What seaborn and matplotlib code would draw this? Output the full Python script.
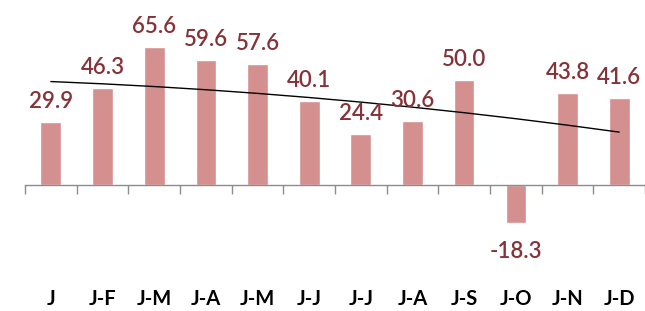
import numpy as np
import matplotlib
matplotlib.use("Agg")
import matplotlib.pyplot as plt
import seaborn as sns

# data
labels = ["J", "J-F", "J-M", "J-A", "J-M", "J-J", "J-J", "J-A", "J-S", "J-O", "J-N", "J-D"]
values = [29.9, 46.3, 65.6, 59.6, 57.6, 40.1, 24.4, 30.6, 50.0, -18.3, 43.8, 41.6]

bar_color = "#d48f8f"
label_color = "#853338"
axis_color = "#8c8c8c"

sns.set_theme(style="white")
plt.rcParams["font.family"] = ["Lato", "DejaVu Sans"]

fig = plt.figure(figsize=(6.45, 3.11), dpi=100)
ax = fig.add_axes([25 / 645, 0.0, 620 / 645, 1.0])

pos = np.arange(len(values))
sns.barplot(x=pos, y=values, color=bar_color, width=0.4, saturation=1, ax=ax)

# trend line (2nd-order polynomial fit, like a spreadsheet trendline)
coef = np.polyfit(pos, values, 2)
ax.plot(pos, np.polyval(coef, pos), color="black", lw=1.0, zorder=3)

# value labels
for x, v in zip(pos, values):
    off = 10 if v >= 0 else -25
    ax.annotate(f"{v:.1f}", (x, v), xytext=(0, off), textcoords="offset points",
                ha="center", va="baseline", fontsize=16, fontweight="semibold",
                color=label_color)

ax.set_xlim(-0.5, -0.5 + 620 / 52)
ax.set_ylim(-126 / 2.1, 185 / 2.1)

for s in ["top", "right", "left"]:
    ax.spines[s].set_visible(False)
ax.spines["bottom"].set_position(("data", 0))
ax.spines["bottom"].set_color(axis_color)
ax.spines["bottom"].set_linewidth(1.0)
ax.set_yticks([])

ax.set_xticks(pos)
ax.set_xticklabels(labels, fontsize=14.5, fontweight="bold", color="black")
ax.tick_params(axis="x", which="major", bottom=True, length=0, pad=75)
ax.set_xticks(np.arange(-0.5, 12, 1), minor=True)
ax.tick_params(axis="x", which="minor", bottom=True, length=6.5, width=1,
               color=axis_color, direction="out")
ax.set_xlabel("")

fig.savefig("out.png", dpi=100)
